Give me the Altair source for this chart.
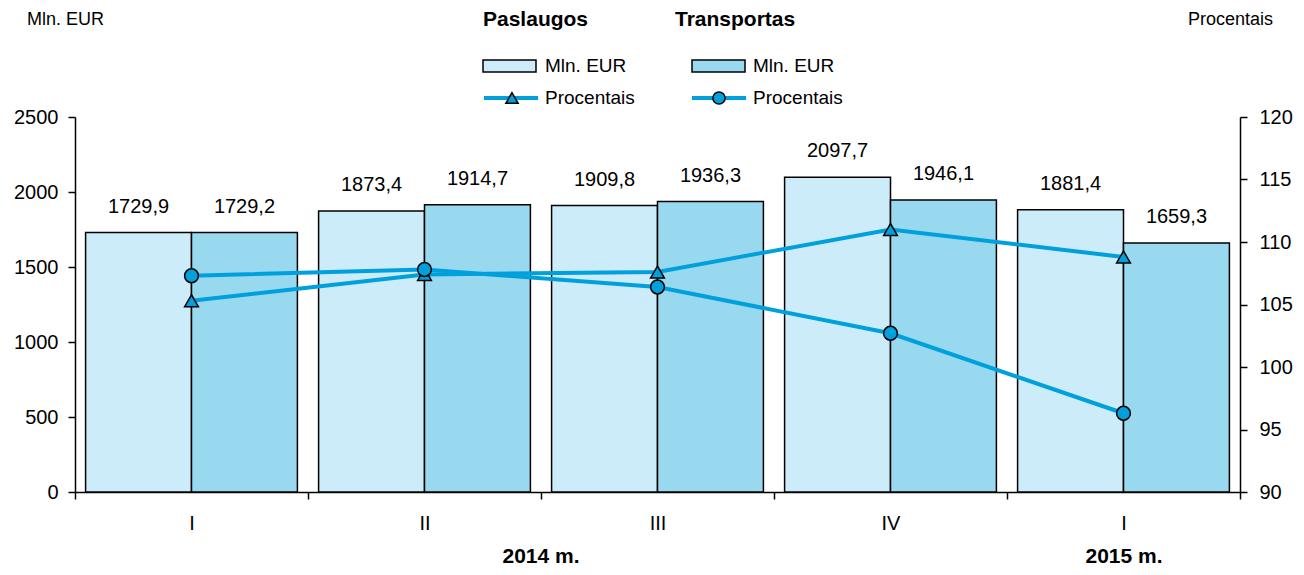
import altair as alt
import pandas as pd

quarters = ["2014 I", "2014 II", "2014 III", "2014 IV", "2015 I"]
series = ["Paslaugos", "Transportas"]
pas_mln = [1729.9, 1873.4, 1909.8, 2097.7, 1881.4]
tr_mln = [1729.2, 1914.7, 1936.3, 1946.1, 1659.3]
pas_pct = [105.3, 107.4, 107.6, 111.0, 108.8]
tr_pct = [107.3, 107.8, 106.4, 102.7, 96.3]

FONT = "Liberation Sans"
LIGHT = "#CCECF9"
DARK = "#99D9F0"
LINE = "#00A0DC"

rows = []
for i, q in enumerate(quarters):
    rows.append({"q": q, "s": series[0], "mln": pas_mln[i], "pct": pas_pct[i]})
    rows.append({"q": q, "s": series[1], "mln": tr_mln[i], "pct": tr_pct[i]})
df = pd.DataFrame(rows)
df["lbl"] = df["mln"].map(lambda v: f"{v:.1f}".replace(".", ","))

x_enc = alt.X(
    "q:N", sort=quarters,
    scale=alt.Scale(paddingInner=0, paddingOuter=0),
    axis=alt.Axis(title=None, labelAngle=0, tickBand="extent", tickSize=7,
                  labelExpr="split(datum.label, ' ')[1]", labelPadding=14,
                  labelFontSize=20, labelFont=FONT, domainWidth=1.5, tickWidth=1.5),
)
xoff = alt.XOffset("s:N", sort=series, scale=alt.Scale(paddingInner=0, paddingOuter=0.1))

base = alt.Chart(df)
bars = base.mark_bar(stroke="black", strokeWidth=1.5).encode(
    x=x_enc, xOffset=xoff,
    y=alt.Y("mln:Q", scale=alt.Scale(domain=[0, 2500], nice=False),
            axis=alt.Axis(title=None, values=[0, 500, 1000, 1500, 2000, 2500], format="d",
                          tickSize=7, labelPadding=10, labelFontSize=20, labelFont=FONT,
                          domainWidth=1.5, tickWidth=1.5)),
    color=alt.Color("s:N", sort=series, scale=alt.Scale(domain=series, range=[LIGHT, DARK]), legend=None),
)
labels = base.mark_text(baseline="bottom", dy=-16, fontSize=20, font=FONT, color="black").encode(
    x=x_enc, xOffset=xoff, y=alt.Y("mln:Q"), text="lbl:N",
)
left = alt.layer(bars, labels)

ypct = alt.Y("pct:Q", scale=alt.Scale(domain=[90, 120], nice=False),
             axis=alt.Axis(title=None, orient="right", values=[90, 95, 100, 105, 110, 115, 120],
                           tickSize=7, labelPadding=12, labelFontSize=20, labelFont=FONT,
                           domainWidth=1.5, tickWidth=1.5))
lines = base.mark_line(color=LINE, strokeWidth=4).encode(x=x_enc, y=ypct, detail="s:N")
pts = base.mark_point(filled=True, fill=LINE, stroke="black", strokeWidth=1.5, size=190, opacity=1).encode(
    x=x_enc, y=alt.Y("pct:Q"),
    shape=alt.Shape("s:N", sort=series, scale=alt.Scale(domain=series, range=["triangle-up", "circle"]), legend=None),
)
right = alt.layer(lines, pts)

one = pd.DataFrame({"a": [0]})
def txt(s, x, y, align="left", size=19, bold=False):
    return alt.Chart(one).mark_text(text=s, align=align, baseline="middle", fontSize=size, font=FONT,
                                    fontWeight="bold" if bold else "normal", color="black").encode(
        x=alt.value(x), y=alt.value(y))

deco = [
    txt("Mln. EUR", -48, -97, size=18),
    txt("Procentais", 1198, -97, align="right", size=18),
    txt("Paslaugos", 408, -97, size=21, bold=True),
    txt("Transportas", 600, -97, size=21, bold=True),
    txt("Mln. EUR", 470, -51),
    txt("Mln. EUR", 678, -51),
    txt("Procentais", 470, -19),
    txt("Procentais", 678, -19),
    txt("2014 m.", 466, 440, align="center", size=21, bold=True),
    txt("2015 m.", 1049, 440, align="center", size=21, bold=True),
    alt.Chart(one).mark_rect(fill=LIGHT, stroke="black", strokeWidth=1.5).encode(
        x=alt.value(408), x2=alt.value(461), y=alt.value(-57), y2=alt.value(-45)),
    alt.Chart(one).mark_rect(fill=DARK, stroke="black", strokeWidth=1.5).encode(
        x=alt.value(617), x2=alt.value(670), y=alt.value(-57), y2=alt.value(-45)),
    alt.Chart(one).mark_rule(color=LINE, strokeWidth=4).encode(
        x=alt.value(409), x2=alt.value(463), y=alt.value(-19)),
    alt.Chart(one).mark_rule(color=LINE, strokeWidth=4).encode(
        x=alt.value(617), x2=alt.value(671), y=alt.value(-19)),
    alt.Chart(one).mark_point(shape="triangle-up", filled=True, fill=LINE, stroke="black",
                              strokeWidth=1.5, size=150, opacity=1).encode(
        x=alt.value(437), y=alt.value(-19)),
    alt.Chart(one).mark_point(shape="circle", filled=True, fill=LINE, stroke="black",
                              strokeWidth=1.5, size=150, opacity=1).encode(
        x=alt.value(644), y=alt.value(-19)),
]

chart = alt.layer(left, right, *deco).resolve_scale(y="independent").properties(
    width=1165, height=375, autosize="none",
    padding={"left": 67, "top": 109, "right": 56, "bottom": 75},
).configure_view(stroke=None).configure_axis(
    grid=False, domainColor="black", tickColor="black", labelColor="black",
)

chart.save("out.html", embed_options={"renderer": "svg", "actions": False})
